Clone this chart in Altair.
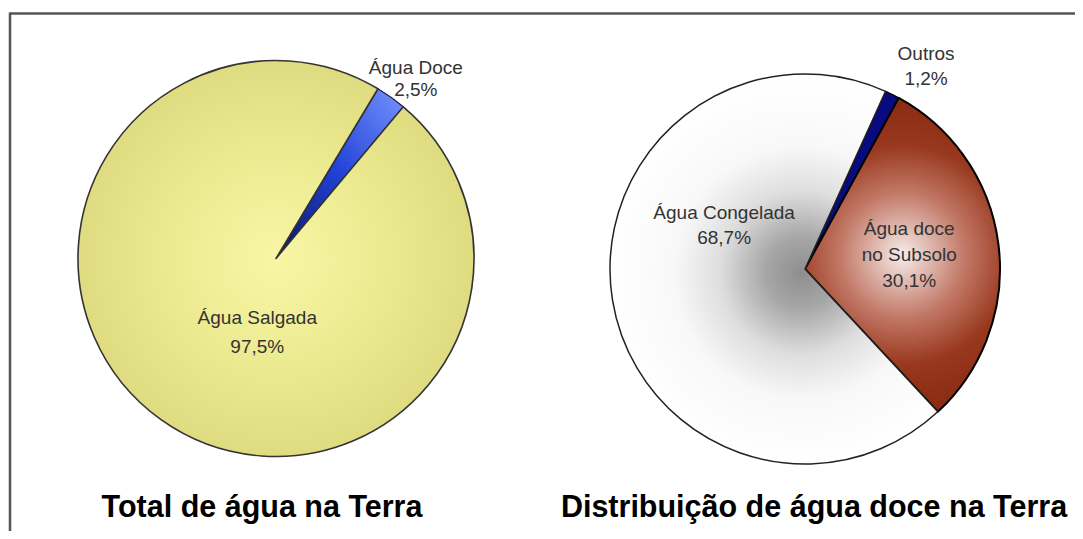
import math
import altair as alt
import pandas as pd

# ---- data ----
total_categories = ["Água Doce", "Água Salgada"]
total_values = [2.5, 97.5]
total_names = ["Água Doce", "Água Salgada"]

fresh_categories = ["Outros", "Água doce no Subsolo", "Água Congelada"]
fresh_values = [1.2, 30.1, 68.7]
fresh_names = ["Outros", "Água doce\nno Subsolo", "Água Congelada"]

chart_titles = ["Total de água na Terra", "Distribuição de água doce na Terra"]


def build_table(categories, values, names):
    rows, acc = [], 0.0
    for c, v, n in zip(categories, values, names):
        pct = f"{v:.1f}".replace(".", ",") + "%"
        rows.append({"cat": c, "value": v, "start": acc, "end": acc + v,
                     "mid": acc + v / 2, "label": n + "\n" + pct})
        acc += v
    return pd.DataFrame(rows)


total_df = build_table(total_categories, total_values, total_names)
fresh_df = build_table(fresh_categories, fresh_values, fresh_names)

FONT = "Liberation Sans"


def radial(stops, x=0.5, y=0.5, r=0.5):
    return alt.RadialGradient(
        gradient="radial", x1=x, y1=y, r1=0, x2=x, y2=y, r2=r,
        stops=[alt.GradientStop(color=c, offset=o) for o, c in stops])


def linear(stops, x1, y1, x2, y2):
    return alt.LinearGradient(
        gradient="linear", x1=x1, y1=y1, x2=x2, y2=y2,
        stops=[alt.GradientStop(color=c, offset=o) for o, c in stops])


def pie(df, cx, cy, r, start_deg, styles, labels):
    a0 = math.radians(start_deg)
    tscale = alt.Scale(domain=[0, 100], range=[a0, a0 + 2 * math.pi])
    base = alt.Chart(df)
    layers = []
    for cat in df["cat"]:
        fill, stroke, sw = styles[cat]
        layers.append(
            base.transform_filter(alt.datum.cat == cat)
            .mark_arc(outerRadius=r, fill=fill, stroke=stroke, strokeWidth=sw,
                      strokeJoin="round")
            .encode(theta=alt.Theta("start:Q", scale=tscale, stack=False),
                    theta2="end:Q", x=alt.value(cx), y=alt.value(cy))
        )
    for cat, (rad, dx, dy, lh) in labels.items():
        layers.append(
            base.transform_filter(alt.datum.cat == cat)
            .mark_text(radius=rad, dx=dx, dy=dy, lineHeight=lh, lineBreak="\n",
                       font=FONT, fontSize=19, color="#333333",
                       align="center", baseline="middle")
            .encode(theta=alt.Theta("mid:Q", scale=tscale, stack=False),
                    text="label:N", x=alt.value(cx), y=alt.value(cy))
        )
    return alt.layer(*layers)


left_styles = {
    "Água Doce": (linear([(0, "#0b1466"), (0.5, "#2142d6"), (1, "#7694ff")], 0, 1, 1, 0),
                  "#1a1a40", 1.2),
    "Água Salgada": (radial([(0, "#f8f6a4"), (0.55, "#ecea90"), (1, "#dedb80")]),
                     "#333333", 1.6),
}
left_labels = {
    "Água Doce": (227, 8, -6, 22),
    "Água Salgada": (77, 26, -3, 29),
}

right_styles = {
    "Outros": ("#0a0a80", "#000000", 1.5),
    "Água doce no Subsolo": (radial([(0, "#f6ecea"), (0.4, "#c27866"), (0.7, "#98381e"), (1, "#8a2c12")]),
                             "#000000", 2),
    "Água Congelada": (radial([(0, "#8e8e8e"), (0.18, "#a6a6a6"), (0.42, "#dedede"),
                               (0.65, "#f8f8f8"), (1, "#ffffff")], x=0.57, y=0.51),
                       "#222222", 1.5),
}
right_labels = {
    "Outros": (235, 16, -5, 25),
    "Água doce no Subsolo": (105, 0, -27, 26),
    "Água Congelada": (85, 3, -70, 25),
}

left_pie = pie(total_df, 268, 250.5, 198, 31, left_styles, left_labels)
right_pie = pie(fresh_df, 797, 261, 195, 24.4, right_styles, right_labels)

one = pd.DataFrame({"k": [0]})
frame_top = alt.Chart(one).mark_rule(color="#555555", strokeWidth=2.5).encode(
    x=alt.value(2), x2=alt.value(1067), y=alt.value(5.5))
frame_left = alt.Chart(one).mark_rule(color="#555555", strokeWidth=2.5).encode(
    x=alt.value(2), y=alt.value(4.5), y2=alt.value(523))

title_df = pd.DataFrame({"title": chart_titles, "idx": [0, 1]})
title_layers = []
for i, xpos in enumerate([254, 806]):
    title_layers.append(
        alt.Chart(title_df).transform_filter(alt.datum.idx == i)
        .mark_text(font=FONT, fontSize=30.5, fontWeight="bold", color="#000000",
                   align="center", baseline="alphabetic")
        .encode(text="title:N", x=alt.value(xpos), y=alt.value(509))
    )

chart = alt.layer(left_pie, right_pie, frame_top, frame_left, *title_layers).resolve_scale(
    theta="independent"
).properties(
    width=1067, height=523, padding=0,
    autosize=alt.AutoSizeParams(type="none"),
    background="#ffffff",
).configure_view(stroke=None)

chart.save("out.html", embed_options={"renderer": "svg", "actions": False})
